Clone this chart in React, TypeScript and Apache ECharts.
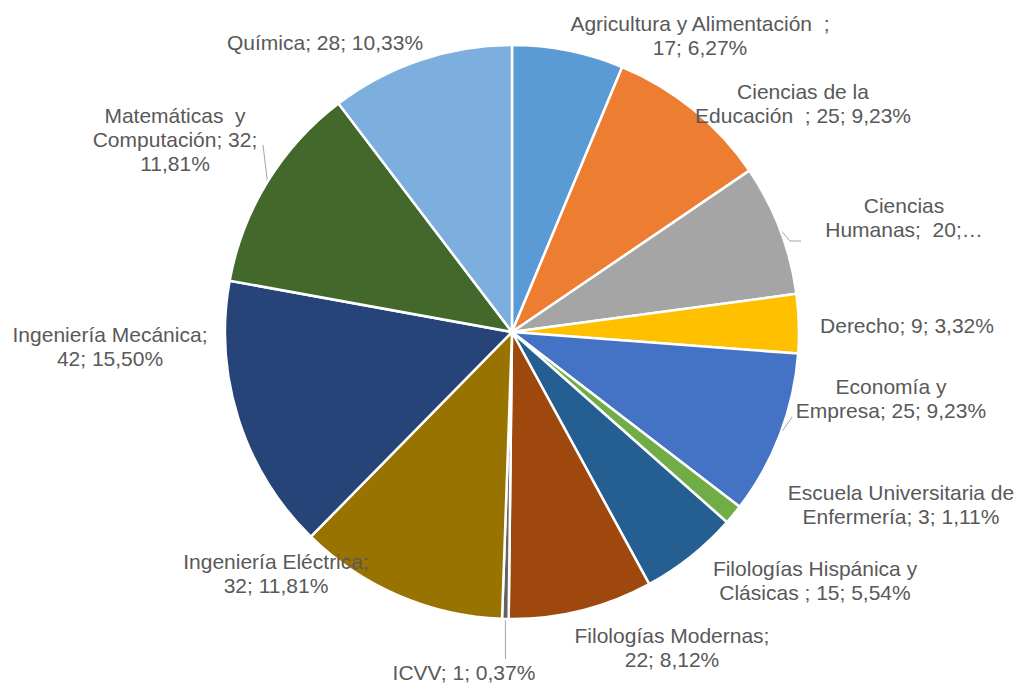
import React, { useEffect, useRef } from "react";
import * as echarts from "echarts";

const categories = [
  "Agricultura y Alimentación",
  "Ciencias de la Educación",
  "Ciencias Humanas",
  "Derecho",
  "Economía y Empresa",
  "Escuela Universitaria de Enfermería",
  "Filologías Hispánica y Clásicas",
  "Filologías Modernas",
  "ICVV",
  "Ingeniería Eléctrica",
  "Ingeniería Mecánica",
  "Matemáticas y Computación",
  "Química",
];

const values = [17, 25, 20, 9, 25, 3, 15, 22, 1, 32, 42, 32, 28];

const colors = [
  "#5B9BD5", "#ED7D31", "#A5A5A5", "#FFC000", "#4472C4", "#70AD47",
  "#255E91", "#9E480E", "#636363", "#997300", "#264478", "#43682B", "#7CAFDD",
];

// label text templates ({v} value, {p} percent)
const labelTemplates = [
  "Agricultura y Alimentación  ;\n{v}; {p}%",
  "Ciencias de la\nEducación  ; {v}; {p}%",
  "Ciencias\nHumanas;  {v};…",
  "Derecho; {v}; {p}%",
  "Economía y\nEmpresa; {v}; {p}%",
  "Escuela Universitaria de\nEnfermería; {v}; {p}%",
  "Filologías Hispánica y\nClásicas ; {v}; {p}%",
  "Filologías Modernas;\n{v}; {p}%",
  "ICVV; {v}; {p}%",
  "Ingeniería Eléctrica;\n{v}; {p}%",
  "Ingeniería Mecánica;\n{v}; {p}%",
  "Matemáticas  y\nComputación; {v};\n{p}%",
  "Química; {v}; {p}%",
];

// label centres (layout)
const labelPos: [number, number][] = [
  [700, 35], [803, 103], [904, 217], [907, 325], [891, 398], [901, 504],
  [815, 580], [672, 647], [464, 672], [276, 573], [110, 346], [175, 139], [325, 42],
];

// leader line tail points (layout), null = no leader line
const leaderTails: ([number, number][] | null)[] = [
  null, null, [[790, 241], [801, 241]], null, [[792, 417]], null,
  null, null, [[505.5, 659]], null, null, [[263, 145]], null,
];

export default function App() {
  const ref = useRef<HTMLDivElement>(null);
  useEffect(() => {
    if (!ref.current) return;
    const chart = echarts.init(ref.current, null, { renderer: "svg" });
    const total = values.reduce((a, b) => a + b, 0);
    const data = categories.map((name, i) => ({
      name,
      value: values[i],
      itemStyle: { color: colors[i] },
      labelLine: { show: leaderTails[i] !== null },
    }));
    chart.setOption({
      animation: false,
      backgroundColor: "#ffffff",
      series: [
        {
          type: "pie",
          center: [512, 332],
          radius: [0, 287],
          startAngle: 90,
          clockwise: true,
          data,
          itemStyle: { borderColor: "#ffffff", borderWidth: 2.5 },
          emphasis: { disabled: true },
          label: {
            show: true,
            position: "outside",
            color: "#595959",
            fontFamily: "Liberation Sans, Arial, sans-serif",
            fontSize: 21,
            lineHeight: 24,
            formatter: (p: any) => {
              const i = p.dataIndex;
              const pct = ((values[i] / total) * 100).toFixed(2).replace(".", ",");
              return labelTemplates[i].replace("{v}", String(values[i])).replace("{p}", pct);
            },
          },
          labelLine: {
            show: true,
            lineStyle: { color: "#A6A6A6", width: 1 },
            length: 10,
            length2: 10,
          },
          labelLayout: (params: any) => {
            const i = params.dataIndex;
            const pos = labelPos[i];
            const res: any = { x: pos[0], y: pos[1], align: "center", verticalAlign: "middle" };
            const tail = leaderTails[i];
            if (tail && params.labelLinePoints) {
              const start = params.labelLinePoints[0];
              const pts = [start, ...tail];
              if (pts.length === 2) pts.splice(1, 0, tail[0]);
              res.labelLinePoints = pts;
            }
            return res;
          },
        },
      ],
    });
    return () => chart.dispose();
  }, []);
  return (
    <div
      ref={ref}
      style={{ position: "fixed", left: 0, top: 0, width: 1022, height: 686 }}
    />
  );
}
